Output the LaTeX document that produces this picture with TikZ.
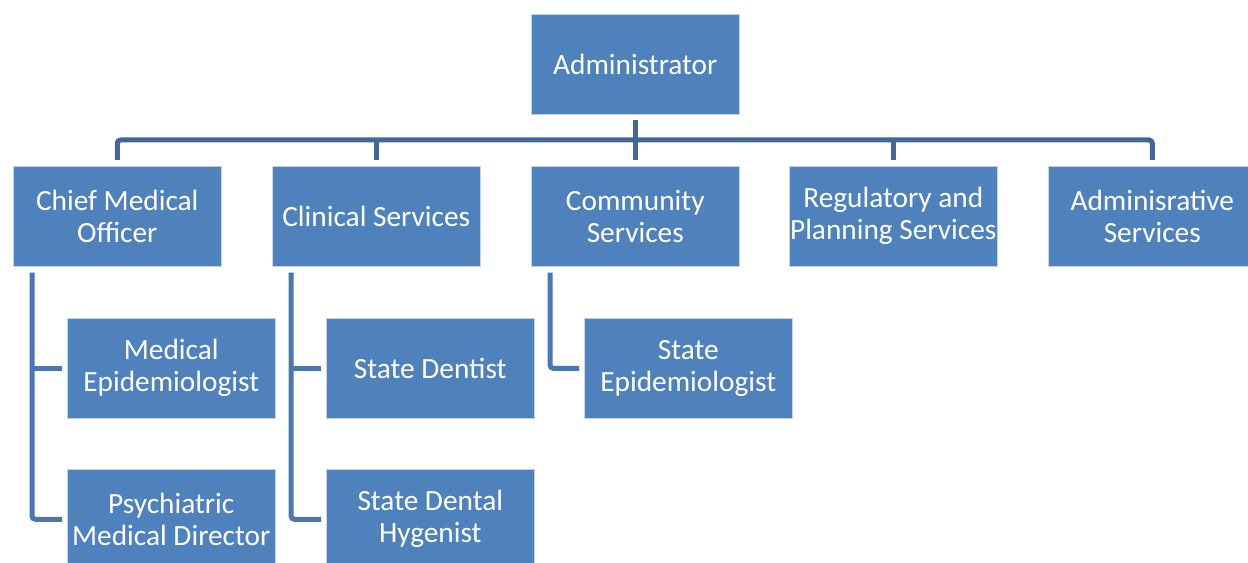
\documentclass[tikz,border=0pt]{standalone}
\usepackage{fontspec}
\setmainfont{Carlito}
\definecolor{boxfill}{HTML}{4F81BD}
\definecolor{busc}{HTML}{3F6797}
\definecolor{subc}{HTML}{4A77AE}
\definecolor{edgec}{HTML}{C3D3E8}
\tikzset{
  orgbox/.style={rectangle, fill=boxfill, draw=edgec, line width=0.4pt,
    minimum width=156pt, minimum height=75pt, inner xsep=0pt, inner ysep=2pt,
    text=white, align=center, anchor=north west,
    font=\fontsize{22}{24}\selectfont},
  busline/.style={draw=busc, line width=3.75pt, rounded corners=2.5pt},
  subline/.style={draw=subc, line width=3.75pt, rounded corners=2.5pt}
}
\begin{document}
\begin{tikzpicture}[x=0.75pt,y=-0.75pt]
\useasboundingbox (0,0) rectangle (1248,563);
\clip (0,0) rectangle (1248,563);
\fill[white] (0,0) rectangle (1248,563);
% level 1
\node[orgbox] (admin) at (531,14) {Administrator};
% level 2
\node[orgbox] (cmo)  at (13,166)  {Chief Medical\\Officer};
\node[orgbox] (clin) at (272,166) {Clinical Services};
\node[orgbox] (comm) at (531,166) {Community\\Services};
\node[orgbox] (reg)  at (789,166) {Regulatory and\\Planning Services};
\node[orgbox] (admn) at (1048,166) {Adminisrative\\Services};
% level 3
\node[orgbox] (medepi) at (67,318)  {Medical\\Epidemiologist};
\node[orgbox] (psych)  at (67,469)  {Psychiatric\\Medical Director};
\node[orgbox] (dent)   at (326,318) {State Dentist};
\node[orgbox] (hyg)    at (326,469) {State Dental\\Hygenist};
\node[orgbox] (stepi)  at (584,318) {State\\Epidemiologist};
% bus
\coordinate (bus) at (0,140);
\draw[busline] ([yshift=4.5pt]cmo.north) |- (bus -| admn.north) -- ([yshift=4.5pt]admn.north);
\draw[busline] ([yshift=-4pt]admin.south) -- ([yshift=4.5pt]comm.north);
\draw[busline] (bus -| clin.north) -- ([yshift=4.5pt]clin.north);
\draw[busline] (bus -| reg.north) -- ([yshift=4.5pt]reg.north);
% sub-branches
\coordinate (cmoL)  at ([xshift=14.25pt]cmo.south west);
\coordinate (clinL) at ([xshift=14.25pt]clin.south west);
\coordinate (commL) at ([xshift=14.25pt]comm.south west);
\draw[subline] ([yshift=-4.5pt]cmoL) |- ([xshift=-3.75pt]psych.west);
\draw[subline] (cmoL |- medepi.west) -- ([xshift=-3.75pt]medepi.west);
\draw[subline] ([yshift=-4.5pt]clinL) |- ([xshift=-3.75pt]hyg.west);
\draw[subline] (clinL |- dent.west) -- ([xshift=-3.75pt]dent.west);
\draw[subline] ([yshift=-4.5pt]commL) |- ([xshift=-3.75pt]stepi.west);
\end{tikzpicture}
\end{document}
